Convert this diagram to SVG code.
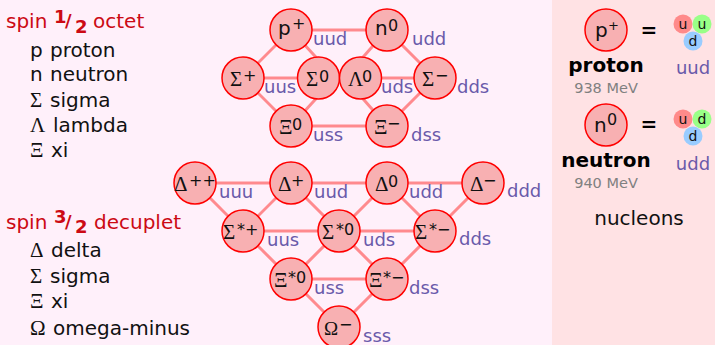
<svg xmlns="http://www.w3.org/2000/svg" width="715" height="345" viewBox="0 0 715 345">
<style>
text{font-family:"DejaVu Sans",sans-serif;fill:#111}
.g{font-family:"Liberation Serif",serif;font-size:21px}
.u{font-size:16px}
.h{font-size:20px;fill:#cc0a14}
.h .b{font-weight:bold;font-size:18px}
.l{font-size:20px}
.q{font-size:18px;fill:#6a5aaa}
.n circle{fill:#f8b0b2;stroke:#ff0000;stroke-width:1.5}
.t{font-size:20px}
#connectors line{stroke:#ff8a8e;stroke-width:3}
.m{font-size:14.5px;fill:#808080;text-anchor:middle}
.nm{font-size:20px;font-weight:bold;text-anchor:middle;fill:#000}
.qk{font-size:14px;text-anchor:middle}
.eq{font-size:20px;font-weight:bold;text-anchor:middle;fill:#000}
</style>
<rect width="715" height="345" fill="#fff0fa"/>
<rect x="552" width="163" height="345" fill="#ffe2e4"/>
<g id="connectors">
<line x1="291" y1="30" x2="387" y2="30"/><line x1="243" y1="78" x2="318.5" y2="78"/><line x1="360.5" y1="78" x2="435" y2="78"/><line x1="291" y1="126" x2="387" y2="126"/>
<line x1="291" y1="30" x2="243" y2="78"/><line x1="291" y1="30" x2="318.5" y2="60"/><line x1="387" y1="30" x2="360.5" y2="60"/><line x1="387" y1="30" x2="435" y2="78"/>
<line x1="243" y1="78" x2="291" y2="126"/><line x1="318.5" y1="96" x2="291" y2="126"/><line x1="360.5" y1="96" x2="387" y2="126"/><line x1="435" y1="78" x2="387" y2="126"/>
<line x1="195" y1="183" x2="483" y2="183"/><line x1="243" y1="231" x2="435" y2="231"/><line x1="291" y1="279" x2="387" y2="279"/>
<line x1="195" y1="183" x2="339" y2="327"/><line x1="291" y1="183" x2="243" y2="231"/><line x1="291" y1="183" x2="387" y2="279"/><line x1="387" y1="183" x2="291" y2="279"/><line x1="387" y1="183" x2="435" y2="231"/><line x1="483" y1="183" x2="339" y2="327"/>
</g>
<g id="legend-octet">
<text class="h" x="6" y="28">spin<tspan class="b" x="54" y="23">1</tspan><tspan class="b" x="65" y="27">/</tspan><tspan class="b" x="75" y="33">2</tspan><tspan x="93" y="28">octet</tspan></text>
<text class="l" x="30" y="57">p<tspan x="50">proton</tspan></text>
<text class="l" x="30" y="81">n<tspan x="50">neutron</tspan></text>
<text class="l" x="30" y="107"><tspan class="g">Σ</tspan><tspan x="50">sigma</tspan></text>
<text class="l" x="30" y="132"><tspan class="g">Λ</tspan><tspan x="53">lambda</tspan></text>
<text class="l" x="30" y="157"><tspan class="g">Ξ</tspan><tspan x="51">xi</tspan></text>
</g>
<g id="legend-decuplet">
<text class="h" x="6" y="229">spin<tspan class="b" x="54" y="223">3</tspan><tspan class="b" x="65" y="228">/</tspan><tspan class="b" x="75" y="233">2</tspan><tspan x="94" y="229">decuplet</tspan></text>
<text class="l" x="30" y="257"><tspan class="g">Δ</tspan><tspan x="51">delta</tspan></text>
<text class="l" x="30" y="283"><tspan class="g">Σ</tspan><tspan x="50">sigma</tspan></text>
<text class="l" x="30" y="308"><tspan class="g">Ξ</tspan><tspan x="51">xi</tspan></text>
<text class="l" x="30" y="335"><tspan class="g">Ω</tspan><tspan x="53">omega-minus</tspan></text>
</g>
<g id="proton-octet" class="n"><circle cx="291" cy="30" r="21"/><text class="t" x="278" y="35">p<tspan class="u" x="292" y="29">+</tspan></text></g>
<g id="neutron-octet" class="n"><circle cx="387" cy="30" r="21"/><text class="t" x="375" y="35">n<tspan class="u" x="388" y="31">0</tspan></text></g>
<g id="sigma-plus" class="n"><circle cx="243" cy="78" r="21"/><text class="t" x="230" y="86"><tspan class="g">Σ</tspan><tspan class="u" x="243" y="81">+</tspan></text></g>
<g id="sigma-0" class="n"><circle cx="318.5" cy="78" r="21"/><text class="t" x="306" y="86"><tspan class="g">Σ</tspan><tspan class="u" x="319" y="82">0</tspan></text></g>
<g id="lambda-0" class="n"><circle cx="360.5" cy="78" r="21"/><text class="t" x="348" y="86"><tspan class="g">Λ</tspan><tspan class="u" x="362" y="82">0</tspan></text></g>
<g id="sigma-minus" class="n"><circle cx="435" cy="78" r="21"/><text class="t" x="422" y="86"><tspan class="g">Σ</tspan><tspan class="u" x="435" y="81">−</tspan></text></g>
<g id="xi-0" class="n"><circle cx="291" cy="126" r="21"/><text class="t" x="279" y="134"><tspan class="g">Ξ</tspan><tspan class="u" x="292" y="130">0</tspan></text></g>
<g id="xi-minus" class="n"><circle cx="387" cy="126" r="21"/><text class="t" x="374" y="134"><tspan class="g">Ξ</tspan><tspan class="u" x="387" y="129">−</tspan></text></g>
<g id="delta-pp" class="n"><circle cx="195" cy="183" r="21"/><text class="t" x="174" y="191"><tspan class="g">Δ</tspan><tspan class="u" x="189" y="186">++</tspan></text></g>
<g id="delta-p" class="n"><circle cx="291" cy="183" r="21"/><text class="t" x="278" y="191"><tspan class="g">Δ</tspan><tspan class="u" x="291" y="186">+</tspan></text></g>
<g id="delta-0" class="n"><circle cx="387" cy="183" r="21"/><text class="t" x="375" y="191"><tspan class="g">Δ</tspan><tspan class="u" x="388" y="187">0</tspan></text></g>
<g id="delta-minus" class="n"><circle cx="483" cy="183" r="21"/><text class="t" x="470" y="191"><tspan class="g">Δ</tspan><tspan class="u" x="483" y="186">−</tspan></text></g>
<g id="sigma-star-plus" class="n"><circle cx="243" cy="231" r="21"/><text class="t" x="223" y="239"><tspan class="g">Σ</tspan><tspan class="u" x="237" y="235">*+</tspan></text></g>
<g id="sigma-star-0" class="n"><circle cx="339" cy="231" r="21"/><text class="t" x="322" y="239"><tspan class="g">Σ</tspan><tspan class="u" x="336" y="235">*0</tspan></text></g>
<g id="sigma-star-minus" class="n"><circle cx="435" cy="231" r="21"/><text class="t" x="415" y="239"><tspan class="g">Σ</tspan><tspan class="u" x="429" y="235">*−</tspan></text></g>
<g id="xi-star-0" class="n"><circle cx="291" cy="279" r="21"/><text class="t" x="274" y="287"><tspan class="g">Ξ</tspan><tspan class="u" x="288" y="283">*0</tspan></text></g>
<g id="xi-star-minus" class="n"><circle cx="387" cy="279" r="21"/><text class="t" x="369" y="287"><tspan class="g">Ξ</tspan><tspan class="u" x="383" y="283">*−</tspan></text></g>
<g id="omega-minus" class="n"><circle cx="339" cy="327" r="21"/><text class="t" x="324" y="335"><tspan class="g" style="font-size:19px">Ω</tspan><tspan class="u" x="339" y="330">−</tspan></text></g>
<g id="quark-labels">
<text class="q" x="313" y="45">uud</text><text class="q" x="412" y="45">udd</text>
<text class="q" x="264" y="93">uus</text><text class="q" x="381" y="93">uds</text><text class="q" x="457" y="93">dds</text>
<text class="q" x="313" y="141">uss</text><text class="q" x="411" y="141">dss</text>
<text class="q" x="219" y="198">uuu</text><text class="q" x="314" y="198">uud</text><text class="q" x="409" y="198">udd</text><text class="q" x="507" y="197">ddd</text>
<text class="q" x="267" y="246">uus</text><text class="q" x="363" y="246">uds</text><text class="q" x="459" y="245">dds</text>
<text class="q" x="314" y="294">uss</text><text class="q" x="409" y="294">dss</text><text class="q" x="363" y="342">sss</text>
</g>
<g id="proton-panel">
<g class="n"><circle cx="606" cy="30" r="21"/></g><text x="595" y="37" class="t" fill="#333">p<tspan font-size="13" x="608" y="30">+</tspan></text>
<text class="eq" x="649" y="37">=</text>
<circle cx="683" cy="24" r="9.5" fill="#ff8a8a"/><circle cx="702" cy="24" r="9.5" fill="#99ff88"/><circle cx="693" cy="41" r="9.5" fill="#99ccff"/>
<text class="qk" x="683" y="29">u</text><text class="qk" x="702" y="29">u</text><text class="qk" x="693" y="46">d</text>
<text class="nm" x="606" y="72">proton</text><text class="m" x="606" y="93">938 MeV</text>
<text class="q" x="693" y="74" text-anchor="middle">uud</text>
</g>
<g id="neutron-panel">
<g class="n"><circle cx="606" cy="125" r="21"/></g><text x="594" y="132" class="t" fill="#333">n<tspan font-size="16" x="607" y="125">0</tspan></text>
<text class="eq" x="649" y="131">=</text>
<circle cx="683" cy="119" r="9.5" fill="#ff8a8a"/><circle cx="702" cy="119" r="9.5" fill="#99ff88"/><circle cx="693" cy="136" r="9.5" fill="#99ccff"/>
<text class="qk" x="683" y="124">u</text><text class="qk" x="702" y="124">d</text><text class="qk" x="693" y="141">d</text>
<text class="nm" x="606" y="167">neutron</text><text class="m" x="606" y="188">940 MeV</text>
<text class="q" x="693" y="170" text-anchor="middle">udd</text>
</g>
<text id="nucleons" x="639" y="225" font-size="20" text-anchor="middle">nucleons</text>
</svg>
